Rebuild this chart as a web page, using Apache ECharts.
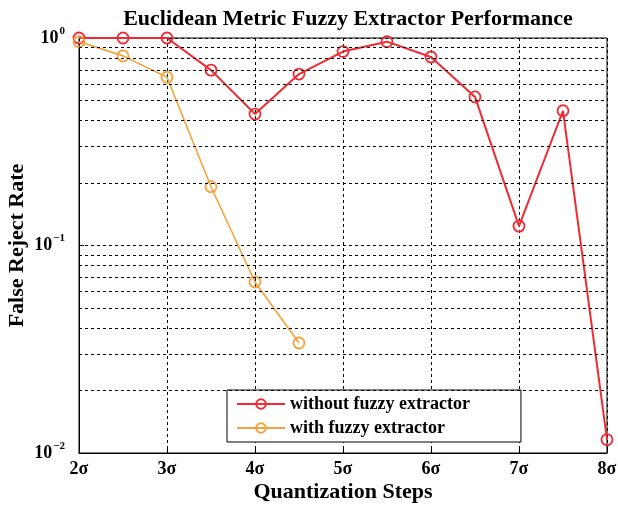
<!DOCTYPE html>
<html>
<head>
<meta charset="utf-8">
<script src="https://cdn.jsdelivr.net/npm/echarts@6/dist/echarts.min.js"></script>
<style>
  html, body { margin: 0; padding: 0; background: #fff; }
  #chart { width: 618px; height: 508px; }
</style>
</head>
<body>
<div id="chart"></div>
<script>
// Quantization step (in units of sigma) for each measurement
const steps = [2, 2.5, 3, 3.5, 4, 4.5, 5, 5.5, 6, 6.5, 7, 7.5, 8];
const stepsWith = [2, 2.5, 3, 3.5, 4, 4.5];

// False reject rates
const frrWithout = [1.0, 1.0, 1.0, 0.70, 0.43, 0.67, 0.86, 0.96, 0.81, 0.52, 0.124, 0.446, 0.0116];
const frrWith = [0.96, 0.82, 0.647, 0.192, 0.0667, 0.0339];

// Axis ranges and ticks
const xTicks = [2, 3, 4, 5, 6, 7, 8];
const yMin = 0.01, yMax = 1;
const yMinorGrid = [0.02, 0.03, 0.04, 0.05, 0.06, 0.07, 0.08, 0.09,
                    0.2, 0.3, 0.4, 0.5, 0.6, 0.7, 0.8, 0.9];

const seriesNames = ['without fuzzy extractor', 'with fuzzy extractor'];

const serif = '"Liberation Serif", "DejaVu Serif", serif';
const RED = '#ef2a30';
const ORANGE = '#f5a23a';

const chart = echarts.init(document.getElementById('chart'), null, { renderer: 'canvas' });

const pairs = (xs, ys) => xs.map((x, i) => [x, ys[i]]);

chart.setOption({
  animation: false,
  backgroundColor: '#fff',
  title: {
    text: 'Euclidean Metric Fuzzy Extractor Performance',
    top: 3,
    left: 343,
    textAlign: 'center',
    textStyle: { fontFamily: serif, fontWeight: 'bold', fontSize: 22, color: '#000' }
  },
  grid: {
    left: 79, right: 11, top: 38, bottom: 55,
    containLabel: false,
    outerBoundsMode: 'none',
    show: true, borderColor: '#000', borderWidth: 1, backgroundColor: 'transparent'
  },
  legend: {
    data: seriesNames,
    orient: 'vertical',
    left: 227,
    top: 390,
    backgroundColor: '#fff',
    borderColor: '#000',
    borderWidth: 1,
    borderRadius: 0,
    padding: [5, 51, 5, 9],
    itemGap: 6,
    itemWidth: 48,
    itemHeight: 12,
    textStyle: { fontFamily: serif, fontWeight: 'bold', fontSize: 18, color: '#000' }
  },
  xAxis: {
    type: 'value',
    min: xTicks[0],
    max: xTicks[xTicks.length - 1],
    interval: 1,
    name: 'Quantization Steps',
    nameLocation: 'middle',
    nameGap: 28,
    nameMoveOverlap: false,
    nameTextStyle: { fontFamily: serif, fontWeight: 'bold', fontSize: 22, color: '#000' },
    axisLine: { lineStyle: { color: '#000', width: 1 } },
    axisTick: { inside: true, length: 5, lineStyle: { color: '#000' } },
    axisLabel: {
      margin: 7,
      fontFamily: serif, fontWeight: 'bold', fontSize: 18, color: '#000',
      formatter: v => v + 'σ'
    },
    splitLine: { show: true, lineStyle: { color: '#000', type: [3, 3], width: 1 } }
  },
  yAxis: {
    type: 'log',
    logBase: 10,
    min: yMin,
    max: yMax,
    name: 'False Reject Rate',
    nameLocation: 'middle',
    nameGap: 51,
    nameMoveOverlap: false,
    nameTextStyle: { fontFamily: serif, fontWeight: 'bold', fontSize: 22, color: '#000' },
    axisLine: { lineStyle: { color: '#000', width: 1 } },
    axisTick: { inside: true, length: 5, lineStyle: { color: '#000' } },
    axisLabel: {
      margin: 14,
      formatter: v => {
        const e = Math.round(Math.log10(v));
        return '{b|10}{s|' + (e < 0 ? '\u2212' + (-e) : e) + '}';
      },
      rich: {
        b: { fontFamily: serif, fontWeight: 'bold', fontSize: 18, color: '#000' },
        s: { fontFamily: serif, fontWeight: 'bold', fontSize: 11, color: '#000', padding: [0, 0, 14, 1] }
      }
    },
    splitLine: { show: true, lineStyle: { color: '#000', type: [3, 3], width: 1 } }
  },
  series: [
    {
      // minor log grid lines drawn through the y scale
      type: 'line',
      data: [],
      silent: true,
      z: 1,
      markLine: {
        silent: true,
        symbol: ['none', 'none'],
        label: { show: false },
        lineStyle: { color: '#000', type: [3, 3], width: 1 },
        data: yMinorGrid.map(v => ({ yAxis: v }))
      }
    },
    {
      name: seriesNames[0],
      type: 'line',
      z: 3,
      data: pairs(steps, frrWithout),
      symbol: 'circle',
      symbolSize: 11,
      lineStyle: { color: RED, width: 2 },
      itemStyle: { color: 'rgba(0,0,0,0)', borderColor: RED, borderWidth: 1.8 }
    },
    {
      name: seriesNames[1],
      type: 'line',
      z: 4,
      data: pairs(stepsWith, frrWith),
      symbol: 'circle',
      symbolSize: 11,
      lineStyle: { color: ORANGE, width: 1.6 },
      itemStyle: { color: 'rgba(0,0,0,0)', borderColor: ORANGE, borderWidth: 1.8 }
    }
  ]
});
</script>
</body>
</html>
